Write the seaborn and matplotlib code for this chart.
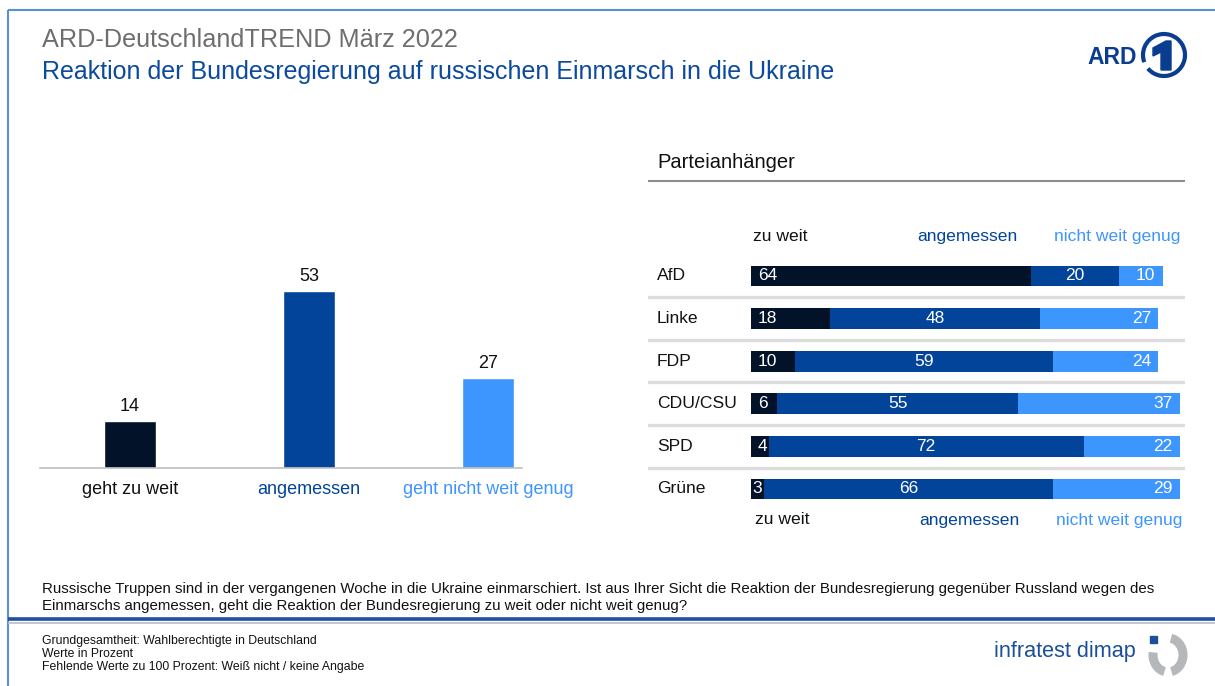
import numpy as np
import pandas as pd
import matplotlib
matplotlib.use("Agg")
import matplotlib.pyplot as plt
from matplotlib.patches import Arc, Rectangle, Polygon
import seaborn as sns

# ---------------- data ----------------
overall_labels = ["geht zu weit", "angemessen", "geht nicht weit genug"]
overall_values = [14, 53, 27]

parties = ["AfD", "Linke", "FDP", "CDU/CSU", "SPD", "Grüne"]
zu_weit = [64, 18, 10, 6, 4, 3]
angemessen = [20, 48, 59, 55, 72, 66]
nicht_weit_genug = [10, 27, 24, 37, 22, 29]
series_labels = ["zu weit", "angemessen", "nicht weit genug"]

# ---------------- style ----------------
sns.set_theme(style="white")
plt.rcParams['font.family'] = ['Liberation Sans', 'DejaVu Sans']

C_DARK = "#021229"
C_MID = "#02449a"
C_LIGHT = "#3d95fe"
C_TITLE_GREY = "#6e6e6e"
C_TITLE_BLUE = "#0b4a9e"

W, H = 1215, 686
fig = plt.figure(figsize=(W / 100, H / 100), dpi=100)
fig.patch.set_facecolor("white")


def fx(px):
    return px / W


def fy(py):
    return 1 - py / H


def axes_px(x0, y0, x1, y1):
    return fig.add_axes([fx(x0), fy(y1), fx(x1) - fx(x0), (y1 - y0) / H])


# ---------------- frame ----------------
frame = fig.add_axes([0, 0, 1, 1])
frame.set_xlim(0, W)
frame.set_ylim(H, 0)
frame.axis("off")
frame.plot([8, W], [10, 10], color="#5b8fd6", lw=1.5, solid_capstyle="butt")
frame.plot([8, 8], [10, H], color="#5b8fd6", lw=1.5, solid_capstyle="butt")
frame.plot([8, W], [619, 619], color="#1f4fa0", lw=2.6, solid_capstyle="butt")
frame.plot([8, W], [622.5, 622.5], color="#b8bec8", lw=1.2, solid_capstyle="butt")

# titles
fig.text(fx(42), fy(40), "ARD-DeutschlandTREND März 2022", color=C_TITLE_GREY,
         fontsize=18.2, va="center", ha="left")
fig.text(fx(42), fy(72), "Reaktion der Bundesregierung auf russischen Einmarsch in die Ukraine",
         color=C_TITLE_BLUE, fontsize=18, va="center", ha="left")

# ARD logo
fig.text(fx(1087), fy(57), "ARD", color="#0a3d8f", fontsize=16.5, fontweight="bold",
         va="center", ha="left")
frame.add_patch(Arc((1164, 55), 42, 42, theta1=-200, theta2=140, color="#0a3d8f", lw=3.0))
frame.add_patch(Polygon([[1153, 48], [1166, 41], [1171, 41], [1171, 70], [1161, 70],
                         [1161, 52], [1153, 56]], closed=True, color="#0a3d8f"))

# infratest dimap logo
fig.text(fx(994), fy(652), "infratest dimap", color="#1b4f9c", fontsize=15.6,
         va="center", ha="left")
frame.add_patch(Arc((1168, 655), 30, 34, theta1=-80, theta2=78, color="#b5b8bb", lw=6.5))
frame.add_patch(Arc((1168, 655), 30, 34, theta1=102, theta2=190, color="#b5b8bb", lw=6.5))
frame.add_patch(Rectangle((1150, 636), 7, 7, color="#1b4f9c"))

# question
fig.text(fx(42), fy(589), "Russische Truppen sind in der vergangenen Woche in die Ukraine einmarschiert. "
         "Ist aus Ihrer Sicht die Reaktion der Bundesregierung gegenüber Russland wegen des",
         fontsize=10.8, color="#111111", va="center", ha="left")
fig.text(fx(42), fy(606), "Einmarschs angemessen, geht die Reaktion der Bundesregierung zu weit oder nicht weit genug?",
         fontsize=10.8, color="#111111", va="center", ha="left")

# footnotes
for i, t in enumerate(["Grundgesamtheit: Wahlberechtigte in Deutschland",
                       "Werte in Prozent",
                       "Fehlende Werte zu 100 Prozent: Weiß nicht / keine Angabe"]):
    fig.text(fx(42), fy(641 + i * 13), t, fontsize=8.8, color="#111111",
             va="center", ha="left")

# ---------------- left chart ----------------
pxu = 3.34
base_y = 468
ax1 = axes_px(40, base_y - 60 * pxu, 522, base_y)
df1 = pd.DataFrame({"label": overall_labels, "value": overall_values})
sns.barplot(data=df1, x="label", y="value", hue="label",
            palette=[C_DARK, C_MID, C_LIGHT], width=0.29, legend=False,
            saturation=1, ax=ax1)
ax1.set_ylim(0, 60)
ax1.set_xlim(-0.503, 2.19)
ax1.set_xlabel("")
ax1.set_ylabel("")
ax1.set_yticks([])
ax1.set_xticks([])
for s in ["top", "left", "right"]:
    ax1.spines[s].set_visible(False)
ax1.spines["bottom"].set_color("#bfbfbf")
ax1.spines["bottom"].set_linewidth(1.2)
for i, v in enumerate(overall_values):
    ax1.text(i, v + 1.8, str(v), ha="center", va="bottom", fontsize=13, color="#111111")
for i, (lab, c) in enumerate(zip(overall_labels, ["#111111", C_MID, C_LIGHT])):
    ax1.text(i, -6.3, lab, ha="center", va="center", fontsize=13, color=c)

# ---------------- right chart ----------------
fig.text(fx(657), fy(162), "Parteianhänger", fontsize=14.5, color="#111111",
         va="center", ha="left")
frame.plot([648, 1185], [181, 181], color="#8c8c8c", lw=1.5, solid_capstyle="butt")

pxu2 = 4.38
row0, rowstep = 276, 42.6
ytop, ybot = 255, 500
ax2 = axes_px(648, ytop, 1185, ybot)
df2 = pd.DataFrame({"party": parties, "zu": zu_weit, "ang": angemessen, "nwg": nicht_weit_genug})
df2["c1"] = df2["zu"]
df2["c2"] = df2["zu"] + df2["ang"]
df2["c3"] = df2["c2"] + df2["nwg"]
for col, c in [("c3", C_LIGHT), ("c2", C_MID), ("c1", C_DARK)]:
    sns.barplot(data=df2, y="party", x=col, orient="h", color=c, saturation=1,
                width=0.49, order=parties, ax=ax2, linewidth=0)
ax2.set_xlim(-(751 - 648) / pxu2, (1185 - 751) / pxu2)
ax2.set_ylim(5 + (ybot - (row0 + 5 * rowstep)) / rowstep, -(row0 - ytop) / rowstep)
ax2.axis("off")
for k in range(5):
    ax2.axhline(k + 0.5, color="#dcdcdc", lw=2.4, zorder=0)
for i, p in enumerate(parties):
    ax2.text(-21.5, i, p, ha="left", va="center", fontsize=12.6, color="#111111")
    z, a, n = zu_weit[i], angemessen[i], nicht_weit_genug[i]
    ax2.text(1.6 if z > 3 else 0.2, i, str(z), ha="left", va="center", fontsize=12.5, color="white")
    ax2.text(z + a / 2, i, str(a), ha="center", va="center", fontsize=12.5, color="white")
    ax2.text(z + a + n - 1.7, i, str(n), ha="right", va="center", fontsize=12.5, color="white")

for yy, dx in [(236, 0), (520, 2)]:
    fig.text(fx(753 + dx), fy(yy), series_labels[0], fontsize=12.6, color="#111111", va="center", ha="left")
    fig.text(fx(967 + dx), fy(yy), series_labels[1], fontsize=12.6, color=C_MID, va="center", ha="center")
    fig.text(fx(1117 + dx), fy(yy), series_labels[2], fontsize=12.6, color=C_LIGHT, va="center", ha="center")

fig.savefig("out.png", dpi=100)
